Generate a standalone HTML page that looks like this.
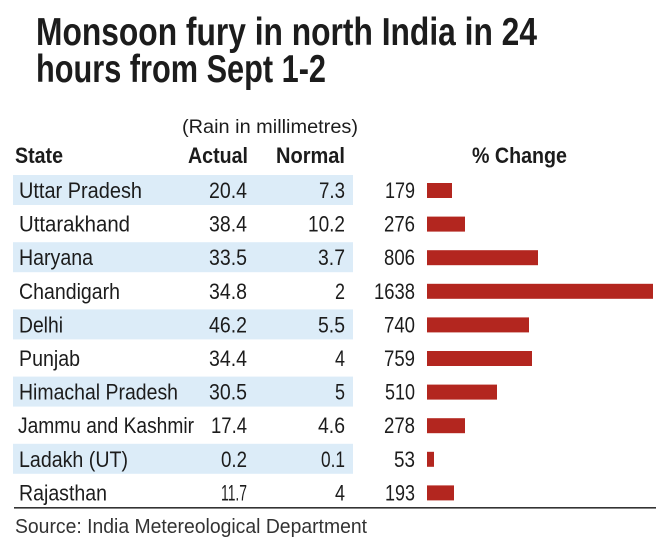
<!DOCTYPE html>
<html>
<head>
<meta charset="utf-8">
<style>
  html,body{margin:0;padding:0;background:#fff;}
  svg{display:block;}
  text{font-family:"Liberation Sans", sans-serif;fill:#1c1c1c;}
  .t{font-weight:bold;font-size:39px;}
  .h{font-weight:bold;font-size:22px;}
  .r{font-size:22px;}
  .s{font-size:20px;fill:#333;}
</style>
</head>
<body>
<svg width="670" height="552" viewBox="0 0 670 552" xmlns="http://www.w3.org/2000/svg">
  <rect width="670" height="552" fill="#fff"/>
  <!-- title -->
  <text class="t" x="36" y="45" textLength="501" lengthAdjust="spacingAndGlyphs">Monsoon fury in north India in 24</text>
  <text class="t" x="36" y="82" textLength="290" lengthAdjust="spacingAndGlyphs">hours from Sept 1-2</text>

  <text x="182" y="133" style="font-size:19px" textLength="176" lengthAdjust="spacingAndGlyphs">(Rain in millimetres)</text>

  <!-- headers -->
  <text class="h" x="15" y="163" textLength="48" lengthAdjust="spacingAndGlyphs">State</text>
  <text class="h" x="188" y="163" textLength="60" lengthAdjust="spacingAndGlyphs">Actual</text>
  <text class="h" x="276" y="163" textLength="69" lengthAdjust="spacingAndGlyphs">Normal</text>
  <text class="h" x="472" y="163" textLength="95" lengthAdjust="spacingAndGlyphs">% Change</text>

  <!-- bands -->
  <g fill="#dcecf8">
    <rect x="13" y="175" width="340" height="30"/>
    <rect x="13" y="242.2" width="340" height="30"/>
    <rect x="13" y="309.4" width="340" height="30"/>
    <rect x="13" y="376.6" width="340" height="30"/>
    <rect x="13" y="443.8" width="340" height="30"/>
  </g>

  <!-- bars -->
  <g fill="#b3261f">
    <rect x="427" y="183" width="25" height="15"/>
    <rect x="427" y="216.6" width="38" height="15"/>
    <rect x="427" y="250.2" width="111" height="15"/>
    <rect x="427" y="283.8" width="226" height="15"/>
    <rect x="427" y="317.4" width="102" height="15"/>
    <rect x="427" y="351" width="105" height="15"/>
    <rect x="427" y="384.6" width="70" height="15"/>
    <rect x="427" y="418.2" width="38" height="15"/>
    <rect x="427" y="451.8" width="7" height="15"/>
    <rect x="427" y="485.4" width="27" height="15"/>
  </g>

  <!-- rows -->
  <g class="r">
    <text class="r" x="19" y="198" textLength="123" lengthAdjust="spacingAndGlyphs">Uttar Pradesh</text>
    <text class="r" x="247" y="198" text-anchor="end" textLength="38" lengthAdjust="spacingAndGlyphs">20.4</text>
    <text class="r" x="345" y="198" text-anchor="end" textLength="26" lengthAdjust="spacingAndGlyphs">7.3</text>
    <text class="r" x="415" y="198" text-anchor="end" textLength="30" lengthAdjust="spacingAndGlyphs">179</text>

    <text class="r" x="19" y="231.6" textLength="111" lengthAdjust="spacingAndGlyphs">Uttarakhand</text>
    <text class="r" x="247" y="231.6" text-anchor="end" textLength="38" lengthAdjust="spacingAndGlyphs">38.4</text>
    <text class="r" x="345" y="231.6" text-anchor="end" textLength="37" lengthAdjust="spacingAndGlyphs">10.2</text>
    <text class="r" x="415" y="231.6" text-anchor="end" textLength="31" lengthAdjust="spacingAndGlyphs">276</text>

    <text class="r" x="19" y="265.2" textLength="74" lengthAdjust="spacingAndGlyphs">Haryana</text>
    <text class="r" x="247" y="265.2" text-anchor="end" textLength="38" lengthAdjust="spacingAndGlyphs">33.5</text>
    <text class="r" x="345" y="265.2" text-anchor="end" textLength="27" lengthAdjust="spacingAndGlyphs">3.7</text>
    <text class="r" x="415" y="265.2" text-anchor="end" textLength="31" lengthAdjust="spacingAndGlyphs">806</text>

    <text class="r" x="19" y="298.8" textLength="101" lengthAdjust="spacingAndGlyphs">Chandigarh</text>
    <text class="r" x="247" y="298.8" text-anchor="end" textLength="38" lengthAdjust="spacingAndGlyphs">34.8</text>
    <text class="r" x="345" y="298.8" text-anchor="end" textLength="10" lengthAdjust="spacingAndGlyphs">2</text>
    <text class="r" x="415" y="298.8" text-anchor="end" textLength="41" lengthAdjust="spacingAndGlyphs">1638</text>

    <text class="r" x="19" y="332.4" textLength="44" lengthAdjust="spacingAndGlyphs">Delhi</text>
    <text class="r" x="247" y="332.4" text-anchor="end" textLength="38" lengthAdjust="spacingAndGlyphs">46.2</text>
    <text class="r" x="345" y="332.4" text-anchor="end" textLength="27" lengthAdjust="spacingAndGlyphs">5.5</text>
    <text class="r" x="415" y="332.4" text-anchor="end" textLength="31" lengthAdjust="spacingAndGlyphs">740</text>

    <text class="r" x="19" y="366" textLength="61" lengthAdjust="spacingAndGlyphs">Punjab</text>
    <text class="r" x="247" y="366" text-anchor="end" textLength="38" lengthAdjust="spacingAndGlyphs">34.4</text>
    <text class="r" x="345" y="366" text-anchor="end" textLength="10" lengthAdjust="spacingAndGlyphs">4</text>
    <text class="r" x="415" y="366" text-anchor="end" textLength="31" lengthAdjust="spacingAndGlyphs">759</text>

    <text class="r" x="19" y="399.6" textLength="159" lengthAdjust="spacingAndGlyphs">Himachal Pradesh</text>
    <text class="r" x="247" y="399.6" text-anchor="end" textLength="38" lengthAdjust="spacingAndGlyphs">30.5</text>
    <text class="r" x="345" y="399.6" text-anchor="end" textLength="10" lengthAdjust="spacingAndGlyphs">5</text>
    <text class="r" x="415" y="399.6" text-anchor="end" textLength="30" lengthAdjust="spacingAndGlyphs">510</text>

    <text class="r" x="18" y="433.2" textLength="176" lengthAdjust="spacingAndGlyphs">Jammu and Kashmir</text>
    <text class="r" x="247" y="433.2" text-anchor="end" textLength="36" lengthAdjust="spacingAndGlyphs">17.4</text>
    <text class="r" x="345" y="433.2" text-anchor="end" textLength="27" lengthAdjust="spacingAndGlyphs">4.6</text>
    <text class="r" x="415" y="433.2" text-anchor="end" textLength="31" lengthAdjust="spacingAndGlyphs">278</text>

    <text class="r" x="19" y="466.8" textLength="109" lengthAdjust="spacingAndGlyphs">Ladakh (UT)</text>
    <text class="r" x="247" y="466.8" text-anchor="end" textLength="26" lengthAdjust="spacingAndGlyphs">0.2</text>
    <text class="r" x="345" y="466.8" text-anchor="end" textLength="24" lengthAdjust="spacingAndGlyphs">0.1</text>
    <text class="r" x="415" y="466.8" text-anchor="end" textLength="21" lengthAdjust="spacingAndGlyphs">53</text>

    <text class="r" x="19" y="500.4" textLength="88" lengthAdjust="spacingAndGlyphs">Rajasthan</text>
    <text class="r" x="247" y="500.4" text-anchor="end" textLength="26" lengthAdjust="spacingAndGlyphs">11.7</text>
    <text class="r" x="345" y="500.4" text-anchor="end" textLength="10" lengthAdjust="spacingAndGlyphs">4</text>
    <text class="r" x="415" y="500.4" text-anchor="end" textLength="30" lengthAdjust="spacingAndGlyphs">193</text>
  </g>

  <!-- rule -->
  <rect x="14" y="507" width="642" height="1.6" fill="#333"/>

  <!-- source -->
  <text class="s" x="15" y="533" textLength="352" lengthAdjust="spacingAndGlyphs">Source: India Metereological Department</text>
</svg>
</body>
</html>
